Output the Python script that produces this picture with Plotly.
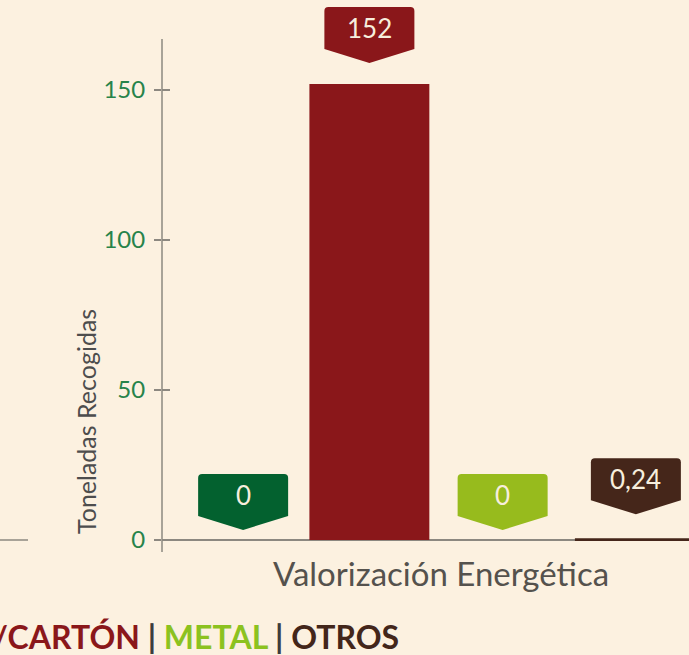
import plotly.graph_objects as go

# ---- data ----
category = "Valorización Energética"
series_names = ["VIDRIO", "PAPEL/CARTÓN", "METAL", "OTROS"]
series_values = [0, 152, 0, 0.24]
value_labels = ["0", "152", "0", "0,24"]
y_ticks = [0, 50, 100, 150]
y_title = "Toneladas Recogidas"

# ---- style ----
colors = ["#03612F", "#8A171A", "#97BB1D", "#45261A"]
label_gap_px = [10, 21, 10, 25]      # distance between bar top and label tip
label_xshift_px = [7, 0, 0, 0]
bar_outline = [0, 0, 0, 2]
BG = "#FCF1E0"
AXIS = "#8C8880"
FONT = "Lato"

n = len(series_names)
bargap = 0.0
bargroupgap = 0.1

fig = go.Figure()
for i in range(n):
    fig.add_trace(go.Bar(
        x=[category], y=[series_values[i]], name=series_names[i],
        marker=dict(color=colors[i], line=dict(color=colors[i], width=bar_outline[i])),
        showlegend=False, hoverinfo="skip",
    ))

# label call-outs (pentagon boxes) anchored to bar tops in data coordinates
W, H, P, R = 45, 42, 14, 4
for i in range(n):
    center = -0.5 + (1 - bargap) / n * (i + 0.5)
    g = label_gap_px[i]
    dx = label_xshift_px[i]
    top = g + P + H
    path = (f"M {dx},{g} L {dx+W},{g+P} L {dx+W},{top-R} Q {dx+W},{top} {dx+W-R},{top} "
            f"L {dx-W+R},{top} Q {dx-W},{top} {dx-W},{top-R} L {dx-W},{g+P} Z")
    fig.add_shape(type="path", xref="x", yref="y", xsizemode="pixel", ysizemode="pixel",
                  xanchor=center, yanchor=series_values[i], path=path,
                  fillcolor=colors[i], line=dict(width=0), layer="above")
    fig.add_annotation(x=center, y=series_values[i], xref="x", yref="y",
                       text=value_labels[i], showarrow=False,
                       xshift=dx, yshift=g + P + H / 2, yanchor="middle",
                       font=dict(family=FONT, size=26, color="#F7EEDD"))

# y axis line (drawn as shape so label boxes are not clipped)
fig.add_shape(type="line", xref="paper", yref="y", x0=0, x1=0, y0=-4, y1=167,
              line=dict(color=AXIS, width=1.5), layer="above")
# piece of neighbouring chart's axis at the far left
fig.add_shape(type="line", xref="paper", yref="y", x0=-162 / 527, x1=(28 - 162) / 527, y0=0, y1=0,
              line=dict(color=AXIS, width=1.5))

# y title
fig.add_annotation(xref="paper", yref="paper", x=(86 - 162) / 527, y=1 - 422 / 552,
                   xanchor="center", yanchor="middle",
                   text=y_title, textangle=-90, showarrow=False,
                   font=dict(family=FONT, size=25, color="#4D4D4D"))

# bottom legend-like heading (clipped on the left)
legend_text = (f"<b><span style='color:{colors[0]}'>{series_names[0]}</span>"
               f"<span style='color:#3D3D3D'> | </span>"
               f"<span style='color:{colors[1]}'>{series_names[1]}</span>"
               f"<span style='color:#3D3D3D'> | </span>"
               f"<span style='color:#8CC21F'>{series_names[2]}</span>"
               f"<span style='color:#3D3D3D'> | </span>"
               f"<span style='color:#43261A'>{series_names[3]}</span></b>")
fig.add_annotation(xref="paper", yref="paper", x=(401 - 162) / 527, y=-(636 - 552) / 552,
                   xanchor="right", yanchor="middle", text=legend_text, showarrow=False,
                   font=dict(family=FONT, size=32))

x_left = -(436 - 162) / 533
x_right = x_left + 527 / 533

fig.update_layout(
    width=689, height=655,
    margin=dict(l=162, r=0, t=0, b=103),
    paper_bgcolor=BG, plot_bgcolor=BG,
    barmode="group", bargap=bargap, bargroupgap=bargroupgap,
    font=dict(family=FONT),
    xaxis=dict(range=[x_left, x_right], showline=False, showgrid=False, zeroline=False,
               ticks="", tickfont=dict(family=FONT, size=33, color="#55524D"),
               ticklabelshift=5, ticklabelstandoff=0, fixedrange=True),
    yaxis=dict(range=[-4, 180], tickvals=y_ticks, showgrid=False, showline=False,
               zeroline=True, zerolinecolor=AXIS, zerolinewidth=2,
               ticks="outside", ticklen=7, tickwidth=1.5, tickcolor=AXIS,
               ticklabelstandoff=4,
               tickfont=dict(family=FONT, size=24, color="#27834A"), fixedrange=True),
    yaxis2=dict(range=[-4, 180], tickvals=y_ticks, overlaying="y", side="left",
                showgrid=False, showline=False, zeroline=False, showticklabels=False,
                ticks="inside", ticklen=8, tickwidth=1.5, tickcolor=AXIS, fixedrange=True),
)
# dummy invisible trace to activate yaxis2 ticks
fig.add_trace(go.Scatter(x=[category], y=[0], yaxis="y2", mode="markers",
                         marker=dict(opacity=0), showlegend=False, hoverinfo="skip"))

fig.write_html("out.html", config={"displayModeBar": False})
with open("out.html", encoding="utf-8") as f:
    html = f.read()
html = html.replace("<head>", "<head><style>html,body{margin:0;padding:0;overflow:hidden;}</style>", 1)
with open("out.html", "w", encoding="utf-8") as f:
    f.write(html)
